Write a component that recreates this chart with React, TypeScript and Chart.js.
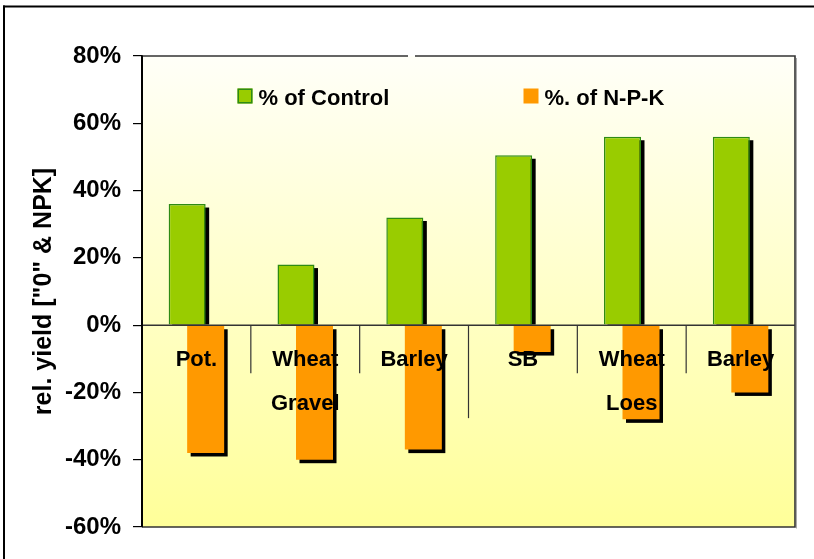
import { useEffect, useRef } from "react";
import { Chart, registerables } from "chart.js";

Chart.register(...registerables);

// ---- data ----
const crops = ["Pot.", "Wheat", "Barley", "SB", "Wheat", "Barley"];
const soilGroups = ["Gravel", "Loes"];
const cropsPerGroup = [3, 3];
const controlPct = [36, 18, 32, 50.5, 56, 56];
const npkPct = [-38, -40, -37, -8, -28, -20];
const seriesLabels = ["% of Control", "%. of N-P-K"];
const yMin = -60;
const yMax = 80;
const yStep = 20;
const yTitle = 'rel. yield ["0" & NPK]';

// ---- styles ----
const FONT = '"Liberation Sans", Arial, Helvetica, sans-serif';
const GREEN = "#99CC00";
const GREEN_EDGE = "#2E8B14";
const ORANGE = "#FF9900";

const decor = {
  id: "decor",
  beforeDraw(chart: any) {
    const { ctx, chartArea: a } = chart;
    ctx.save();
    ctx.fillStyle = "#ffffff";
    ctx.fillRect(0, 0, chart.width, chart.height);
    const g = ctx.createLinearGradient(0, a.top, 0, a.bottom);
    g.addColorStop(0, "#FFFFF8");
    g.addColorStop(1, "#FFFF99");
    ctx.fillStyle = g;
    ctx.fillRect(a.left, a.top, a.right - a.left, a.bottom - a.top);
    ctx.restore();
  },
  beforeDatasetsDraw(chart: any) {
    const { ctx } = chart;
    const dx = 3.5;
    const dy = 3.5;
    ctx.save();
    ctx.fillStyle = "#000";
    chart.data.datasets.forEach((_: any, i: number) => {
      const meta = chart.getDatasetMeta(i);
      meta.data.forEach((el: any) => {
        const p = el.getProps(["x", "y", "base", "width"], true);
        const left = p.x - p.width / 2 + dx;
        const top = Math.min(p.y, p.base) + dy;
        let bottom = Math.max(p.y, p.base) + dy;
        if (p.y < p.base) bottom = p.base;
        ctx.fillRect(left, top, p.width, bottom - top);
      });
    });
    ctx.restore();
  },
  afterDatasetsDraw(chart: any) {
    const { ctx, chartArea: a } = chart;
    const xs = chart.scales.x;
    const ys = chart.scales.y;
    const zero = ys.getPixelForValue(0);
    const half = (xs.getPixelForValue(1) - xs.getPixelForValue(0)) / 2;
    ctx.save();

    // zero line
    ctx.strokeStyle = "#333";
    ctx.lineWidth = 1.5;
    ctx.beginPath();
    ctx.moveTo(a.left, zero);
    ctx.lineTo(a.right, zero);
    ctx.stroke();

    // separators
    ctx.lineWidth = 1.2;
    let idx = 0;
    const groupBounds = new Set<number>();
    cropsPerGroup.forEach((n) => {
      idx += n;
      groupBounds.add(idx);
    });
    for (let i = 1; i < crops.length; i++) {
      const x = xs.getPixelForValue(i) - half;
      const len = groupBounds.has(i) ? 93 : 48;
      ctx.beginPath();
      ctx.moveTo(x, zero);
      ctx.lineTo(x, zero + len);
      ctx.stroke();
    }

    // category labels
    ctx.fillStyle = "#000";
    ctx.font = `bold 22px ${FONT}`;
    ctx.textAlign = "center";
    ctx.textBaseline = "alphabetic";
    crops.forEach((c, i) => {
      ctx.fillText(c, xs.getPixelForValue(i), zero + 40.5);
    });
    // group labels
    let start = 0;
    soilGroups.forEach((g, gi) => {
      const n = cropsPerGroup[gi];
      const x0 = xs.getPixelForValue(start) - half;
      const x1 = xs.getPixelForValue(start + n - 1) + half;
      ctx.fillText(g, (x0 + x1) / 2, zero + 85);
      start += n;
    });

    // plot border
    ctx.strokeStyle = "#aaa";
    ctx.lineWidth = 1;
    ctx.beginPath();
    ctx.moveTo(a.right + 1.5, a.top + 2);
    ctx.lineTo(a.right + 1.5, a.bottom + 1.5);
    ctx.stroke();
    ctx.strokeStyle = "#333";
    ctx.lineWidth = 1.6;
    ctx.beginPath();
    ctx.moveTo(a.left, a.top);
    ctx.lineTo(a.left + 266, a.top);
    ctx.moveTo(a.left + 273, a.top);
    ctx.lineTo(a.right, a.top);
    ctx.lineTo(a.right, a.bottom);
    ctx.lineTo(a.left, a.bottom);
    ctx.stroke();
    ctx.strokeStyle = "#000";
    ctx.lineWidth = 2;
    ctx.beginPath();
    ctx.moveTo(a.left, a.top);
    ctx.lineTo(a.left, a.bottom);
    ctx.stroke();

    // legend
    const legendPos = [a.left + 95.5, a.left + 381.5];
    const boxTop = a.top + 32.5;
    ctx.font = `bold 22px ${FONT}`;
    ctx.textAlign = "left";
    chart.data.datasets.forEach((ds: any, i: number) => {
      const x = legendPos[i];
      ctx.fillStyle = ds.backgroundColor;
      ctx.fillRect(x, boxTop, 15, 15);
      if (ds.borderWidth) {
        ctx.strokeStyle = ds.borderColor;
        ctx.lineWidth = 1.5;
        ctx.strokeRect(x + 0.75, boxTop + 0.75, 13.5, 13.5);
      }
      ctx.fillStyle = "#000";
      ctx.fillText(ds.label, x + 21, boxTop + 16);
    });
    ctx.restore();
  },
  afterDraw(chart: any) {
    const { ctx } = chart;
    ctx.save();
    ctx.fillStyle = "#000";
    ctx.fillRect(3, 5.5, chart.width - 3, 2);
    ctx.fillRect(3, 5.5, 2, chart.height - 5.5);
    ctx.restore();
  },
};

export default function App() {
  const ref = useRef<HTMLCanvasElement | null>(null);
  useEffect(() => {
    if (!ref.current) return;
    const chart = new Chart(ref.current, {
      type: "bar",
      data: {
        labels: crops,
        datasets: [
          {
            label: seriesLabels[0],
            data: controlPct,
            backgroundColor: GREEN,
            borderColor: GREEN_EDGE,
            borderWidth: 1.5,
            categoryPercentage: 0.34,
            barPercentage: 2.0,
          },
          {
            label: seriesLabels[1],
            data: npkPct,
            backgroundColor: ORANGE,
            borderWidth: 0,
            categoryPercentage: 0.34,
            barPercentage: 2.0,
          },
        ],
      },
      options: {
        responsive: false,
        animation: false,
        events: [],
        layout: { padding: { left: 0, top: 56, right: 19, bottom: 32 } },
        plugins: {
          legend: { display: false },
          tooltip: { enabled: false },
        },
        scales: {
          x: { display: false },
          y: {
            min: yMin,
            max: yMax,
            afterFit(scale: any) {
              scale.width = 142;
            },
            ticks: {
              stepSize: yStep,
              padding: 12,
              color: "#000",
              font: { family: FONT, size: 24, weight: "bold" },
              callback: (v: any) => `${v}%`,
            },
            grid: {
              drawOnChartArea: false,
              drawTicks: true,
              tickLength: 9,
              color: "#000",
              lineWidth: 1.2,
            },
            border: { display: true, color: "#000", width: 2 },
            title: {
              display: true,
              text: yTitle,
              color: "#000",
              font: { family: FONT, size: 25, weight: "bold" },
              padding: { top: 29, bottom: 0 },
            },
          },
        },
      },
      plugins: [decor],
    } as any);
    return () => chart.destroy();
  }, []);
  return (
    <div style={{ position: "absolute", left: 0, top: 0, width: 814, height: 559 }}>
      <canvas ref={ref} width={814} height={559} style={{ display: "block" }} />
    </div>
  );
}
